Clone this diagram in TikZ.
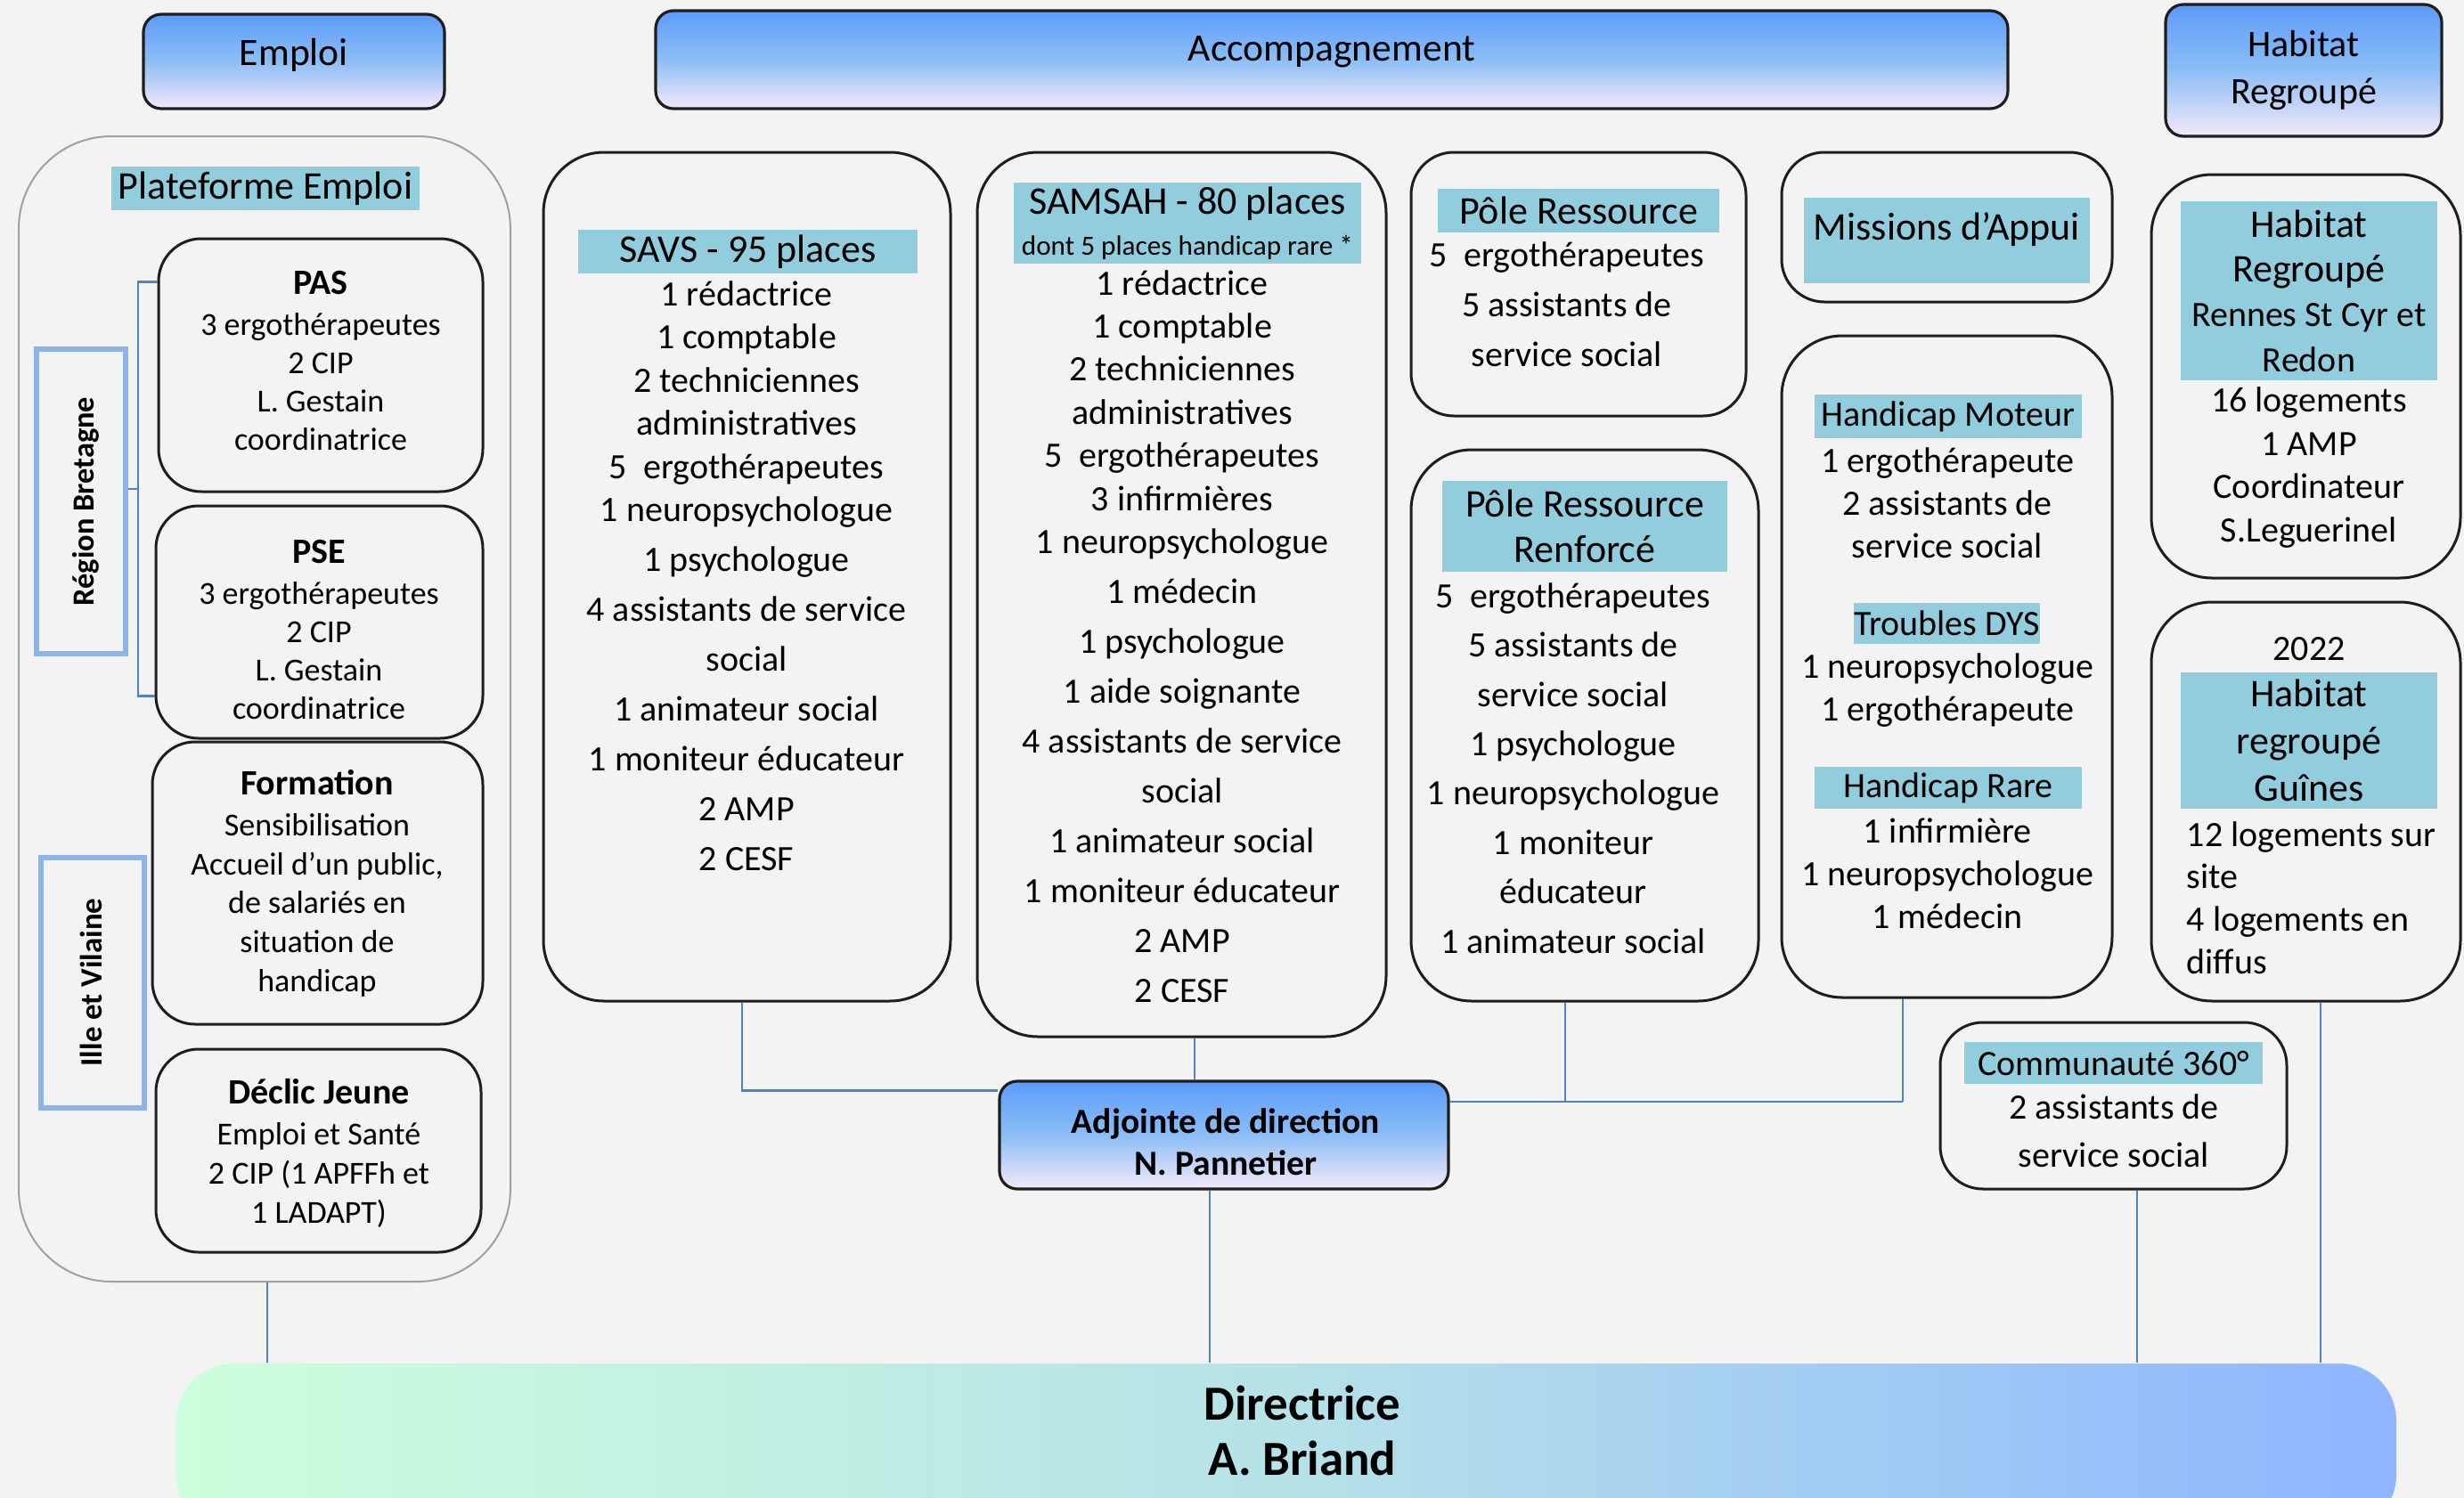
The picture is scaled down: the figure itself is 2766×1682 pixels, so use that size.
\documentclass[tikz,border=0pt]{standalone}
\usepackage{fontspec}
\setmainfont{Carlito}
\definecolor{bgc}{RGB}{243,243,243}
\definecolor{boxc}{RGB}{30,30,30}
\definecolor{hlc}{RGB}{146,205,221}
\definecolor{linec}{RGB}{79,129,199}
\definecolor{hdtop}{RGB}{92,155,250}
\definecolor{hdmid}{RGB}{140,190,245}
\definecolor{hdbot}{RGB}{244,232,250}
\definecolor{dirl}{RGB}{204,255,221}
\definecolor{dirm}{RGB}{182,226,232}
\definecolor{dirr}{RGB}{143,181,255}
\definecolor{regc}{RGB}{141,180,232}
\definecolor{platc}{RGB}{160,160,160}
\newcommand\fsz[2]{\fontsize{#1}{#2}\selectfont}
\begin{document}
\begin{tikzpicture}[x=0.25pt,y=-0.25pt,
 box/.style={draw=boxc,line width=0.75pt,inner sep=0pt},
 hdr/.style={draw=boxc,line width=0.8pt,rounded corners=5pt,top color=hdtop,bottom color=hdbot,middle color=hdmid,inner sep=0pt,align=center,font=\fsz{10.9}{13.25}},
 hl/.style={fill=hlc,inner sep=0pt,align=center},
 txt/.style={align=center,inner sep=0pt,anchor=base,font=\fsz{10}{12.1}},
 conn/.style={draw=linec,line width=0.55pt},
 regbox/.style={draw=regc,line width=1.6pt,inner sep=0pt},
]
\useasboundingbox (0,0) rectangle (2766,1682);
\clip (0,0) rectangle (2766,1682);
\fill[bgc] (0,0) rectangle (2766,1682);

% headers
\node[hdr,minimum width=84.5pt,minimum height=26.5pt] (emploi) at (330,69) {};
\node[inner sep=0pt,font=\fsz{10.9}{13.25}] (emploitxt) at (330,62) {Emploi};
\node[hdr,minimum width=379.5pt,minimum height=27.5pt] (accomp) at (1495,67) {};
\node[inner sep=0pt,font=\fsz{10.9}{13.25}] (accomptxt) at (1495,58) {Accompagnement};
\node[hdr,minimum width=77.5pt,minimum height=37pt,font=\fsz{10.5}{13.25}] (habhdr) at (2586,79) {Habitat\\Regroupé};

% Plateforme emploi
\node[box,draw=platc,line width=0.5pt,rounded corners=26pt,minimum width=138pt,minimum height=321.5pt] (plat) at (297,796) {};
\node[hl,minimum width=86.5pt,minimum height=12.25pt,font=\fsz{11}{13}] (platlab) at (298,211.5) {Plateforme Emploi};

\node[box,rounded corners=12pt,minimum width=91pt,minimum height=71pt] (pas) at (360,410) {};
\node[txt,font=\fsz{9}{10.75}] (pastxt) at (360,505) {\textbf{\fsz{10}{10.75}PAS}\\[0.75pt]3 ergothérapeutes\\2 CIP\\L. Gestain\\coordinatrice};

\node[box,rounded corners=12pt,minimum width=91.75pt,minimum height=65.25pt] (pse) at (358.5,698.5) {};
\node[txt,font=\fsz{9}{10.75}] (psetxt) at (358,807) {\textbf{\fsz{10}{10.75}PSE}\\[0.75pt]3 ergothérapeutes\\2 CIP\\L. Gestain\\coordinatrice};

\node[box,rounded corners=12pt,minimum width=92.75pt,minimum height=79.25pt] (form) at (356.5,991.5) {};
\node[txt,font=\fsz{9}{10.9}] (formtxt) at (356,1113) {\textbf{\fsz{10}{10.9}Formation}\\[0.6pt]Sensibilisation\\Accueil d’un public,\\de salariés en\\situation de\\handicap};

\node[box,rounded corners=12pt,minimum width=91.25pt,minimum height=57pt] (declic) at (357.5,1292) {};
\node[txt,font=\fsz{9}{11}] (declictxt) at (358,1373) {\textbf{\fsz{10}{11}Déclic Jeune}\\[0.5pt]Emploi et Santé\\2 CIP (1 APFFh et\\1 LADAPT)};

\node[regbox,minimum width=25pt,minimum height=85.5pt] (regbz) at (91,563) {};
\node[rotate=90,font=\bfseries\fsz{8.6}{10},inner sep=0pt] (regtxt) at (96,563) {Région Bretagne};
\node[regbox,minimum width=29pt,minimum height=70.25pt] (ille) at (104,1103.5) {};
\node[rotate=90,font=\bfseries\fsz{8.7}{10},inner sep=0pt] (illetxt) at (102,1103) {Ille et Vilaine};

\coordinate (brk) at (155,549);
\draw[conn] ([yshift=-12.5pt]pas.north west) -| (brk) |- ([yshift=12.25pt]pse.south west);
\draw[conn] (regbz.east |- brk) -- (brk);

% SAVS
\node[box,rounded corners=17pt,minimum width=114.25pt,minimum height=238.25pt] (savs) at (838.5,647.5) {};
\node[hl,minimum width=95.25pt,minimum height=12.25pt,font=\fsz{11}{13}] (savslab) at (839.5,282.5) {SAVS - 95 places};
\node[txt] (savstxt) at (838,977) {1 rédactrice\\1 comptable\\2 techniciennes\\administratives\\5\ \ ergothérapeutes\\1 neuropsychologue\\[1.8pt]1 psychologue\\[1.9pt]4 assistants de service\\[1.9pt]social\\[1.9pt]1 animateur social\\[1.9pt]1 moniteur éducateur\\[1.9pt]2 AMP\\[1.9pt]2 CESF};

% SAMSAH
\node[box,rounded corners=17pt,minimum width=114.75pt,minimum height=248.25pt] (samsah) at (1326.5,667.5) {};
\node[hl,minimum width=97.5pt,minimum height=22.75pt,font=\fsz{11}{11.6}] (samlab) at (1333,250.5) {SAMSAH - 80 places\\{\fsz{7.8}{11.6}dont 5 places handicap rare *}};
\node[txt] (samtxt) at (1327,1125) {1 rédactrice\\1 comptable\\2 techniciennes\\administratives\\5\ \ ergothérapeutes\\3 infirmières\\1 neuropsychologue\\[1.8pt]1 médecin\\[1.9pt]1 psychologue\\[1.9pt]1 aide soignante\\[1.9pt]4 assistants de service\\[1.9pt]social\\[1.9pt]1 animateur social\\[1.9pt]1 moniteur éducateur\\[1.9pt]2 AMP\\[1.9pt]2 CESF};

% Pole ressource
\node[box,rounded corners=12pt,minimum width=94pt,minimum height=74pt] (pole) at (1772,319) {};
\node[hl,minimum width=79pt,minimum height=12.25pt,font=\fsz{11}{13}] (polelab) at (1772,236.5) {Pôle Ressource};
\node[txt,font=\fsz{10}{14}] (poletxt) at (1759,411) {5\ \ ergothérapeutes\\5 assistants de\\service social};

\node[box,rounded corners=17pt,minimum width=97.5pt,minimum height=154.75pt] (poler) at (1779,814.5) {};
\node[hl,minimum width=80pt,minimum height=25.5pt,font=\fsz{11}{12.75}] (polerlab) at (1779,591) {Pôle Ressource\\Renforcé};
\node[txt,font=\fsz{10}{13.85}] (polertxt) at (1766,1070) {5\ \ ergothérapeutes\\5 assistants de\\service social\\1 psychologue\\1 neuropsychologue\\1 moniteur\\éducateur\\1 animateur social};

% Missions d'appui
\node[box,rounded corners=12pt,minimum width=92.75pt,minimum height=42pt] (missa) at (2185.5,255) {};
\node[hl,minimum width=80.25pt,minimum height=24pt] (missalab) at (2185.5,270) {};
\node[font=\fsz{11}{13},inner sep=0pt] (missatxt) at (2185.5,258) {Missions d’Appui};

\node[box,rounded corners=17pt,minimum width=92.75pt,minimum height=185.75pt] (missd) at (2185.5,748.5) {};
\node[hl,minimum width=75pt,minimum height=12.25pt,font=\fsz{10}{12}] (hmlab) at (2187,467.5) {Handicap Moteur};
\node[txt,font=\fsz{10}{11.9}] (hmtxt) at (2186,626) {1 ergothérapeute\\2 assistants de\\service social};
\node[hl,minimum width=52.25pt,minimum height=11.5pt,font=\fsz{10}{12}] (dyslab) at (2185.5,700) {Troubles DYS};
\node[txt,font=\fsz{10}{11.9}] (dystxt) at (2186,809) {1 neuropsychologue\\1 ergothérapeute};
\node[hl,minimum width=75pt,minimum height=11.75pt,font=\fsz{10}{12}] (hrlab) at (2187,884.5) {Handicap Rare};
\node[txt,font=\fsz{10}{12}] (hrtxt) at (2186,1042) {1 infirmière\\1 neuropsychologue\\1 médecin};

% Habitat regroupe
\node[box,rounded corners=17pt,minimum width=86.75pt,minimum height=113.25pt] (habd) at (2588.5,422.5) {};
\node[hl,minimum width=72pt,minimum height=50.25pt,font=\fsz{11}{12.6}] (hablab) at (2592,326.5) {Habitat\\Regroupé\\{\fsz{10}{12.2}Rennes St Cyr et}\\{\fsz{10}{12}Redon}};
\node[txt,font=\fsz{10}{12.1}] (habtxt) at (2592,608) {16 logements\\1 AMP\\Coordinateur\\S.Leguerinel};

\node[box,rounded corners=17pt,minimum width=86.75pt,minimum height=112pt] (hab22) at (2588.5,900) {};
\node[txt] (y2022) at (2592,741) {2022};
\node[hl,minimum width=72pt,minimum height=38.25pt,font=\fsz{11}{13.25}] (hab22lab) at (2592,831.5) {Habitat\\regroupé\\Guînes};
\node[inner sep=0pt,anchor=base west,align=left,font=\fsz{10}{11.9}] (hab22txt) at (2454,1093) {12 logements sur\\site\\4 logements en\\diffus};

% Communaute 360
\node[box,rounded corners=12pt,minimum width=97.25pt,minimum height=46.75pt] (comm) at (2372.5,1241.5) {};
\node[hl,minimum width=83.75pt,minimum height=11.75pt,font=\fsz{10}{12}] (commlab) at (2372.5,1193.5) {Communauté 360°};
\node[txt,font=\fsz{10}{13.5}] (commtxt) at (2373,1310) {2 assistants de\\service social};

% Adjointe
\node[hdr,minimum width=126pt,minimum height=30.25pt] (adj) at (1374,1274.5) {};
\node[align=center,inner sep=0pt,font=\bfseries\fsz{9.9}{11.75}] (adjtxt) at (1376,1282) {Adjointe de direction\\N. Pannetier};

% Directrice
\node[draw=none,rounded corners=16pt,left color=dirl,right color=dirr,middle color=dirm,minimum width=623pt,minimum height=47.25pt,inner sep=0pt] (dir) at (1444,1625.5) {};
\node[align=center,inner sep=0pt,font=\bfseries\fsz{13.75}{15.5}] (dirtxt) at (1462,1606) {Directrice\\A. Briand};

% connectors
\draw[conn] ([xshift=-1.4pt]savs.south) |- ([yshift=-3pt]adj.north west);
\draw[conn] ([xshift=3.6pt]samsah.south) -- ([xshift=3.6pt]samsah.south |- adj.north);
\coordinate (rj) at (2136,1237);
\draw[conn] (adj.east |- rj) -- (rj);
\draw[conn] (rj |- missd.south) -- (rj);
\draw[conn] ([xshift=-5.5pt]poler.south) -- ([xshift=-5.5pt]poler.south |- rj);
\draw[conn] ([xshift=-4pt]adj.south) -- ([xshift=-4pt]adj.south |- dir.north);
\draw[conn] ([xshift=0.75pt]plat.south) -- ([xshift=0.75pt]plat.south |- dir.north);
\draw[conn] ([xshift=6.6pt]comm.south) -- ([xshift=6.6pt]comm.south |- dir.north);
\draw[conn] ([xshift=4.1pt]hab22.south) -- ([xshift=4.1pt]hab22.south |- dir.north);
\end{tikzpicture}
\end{document}
